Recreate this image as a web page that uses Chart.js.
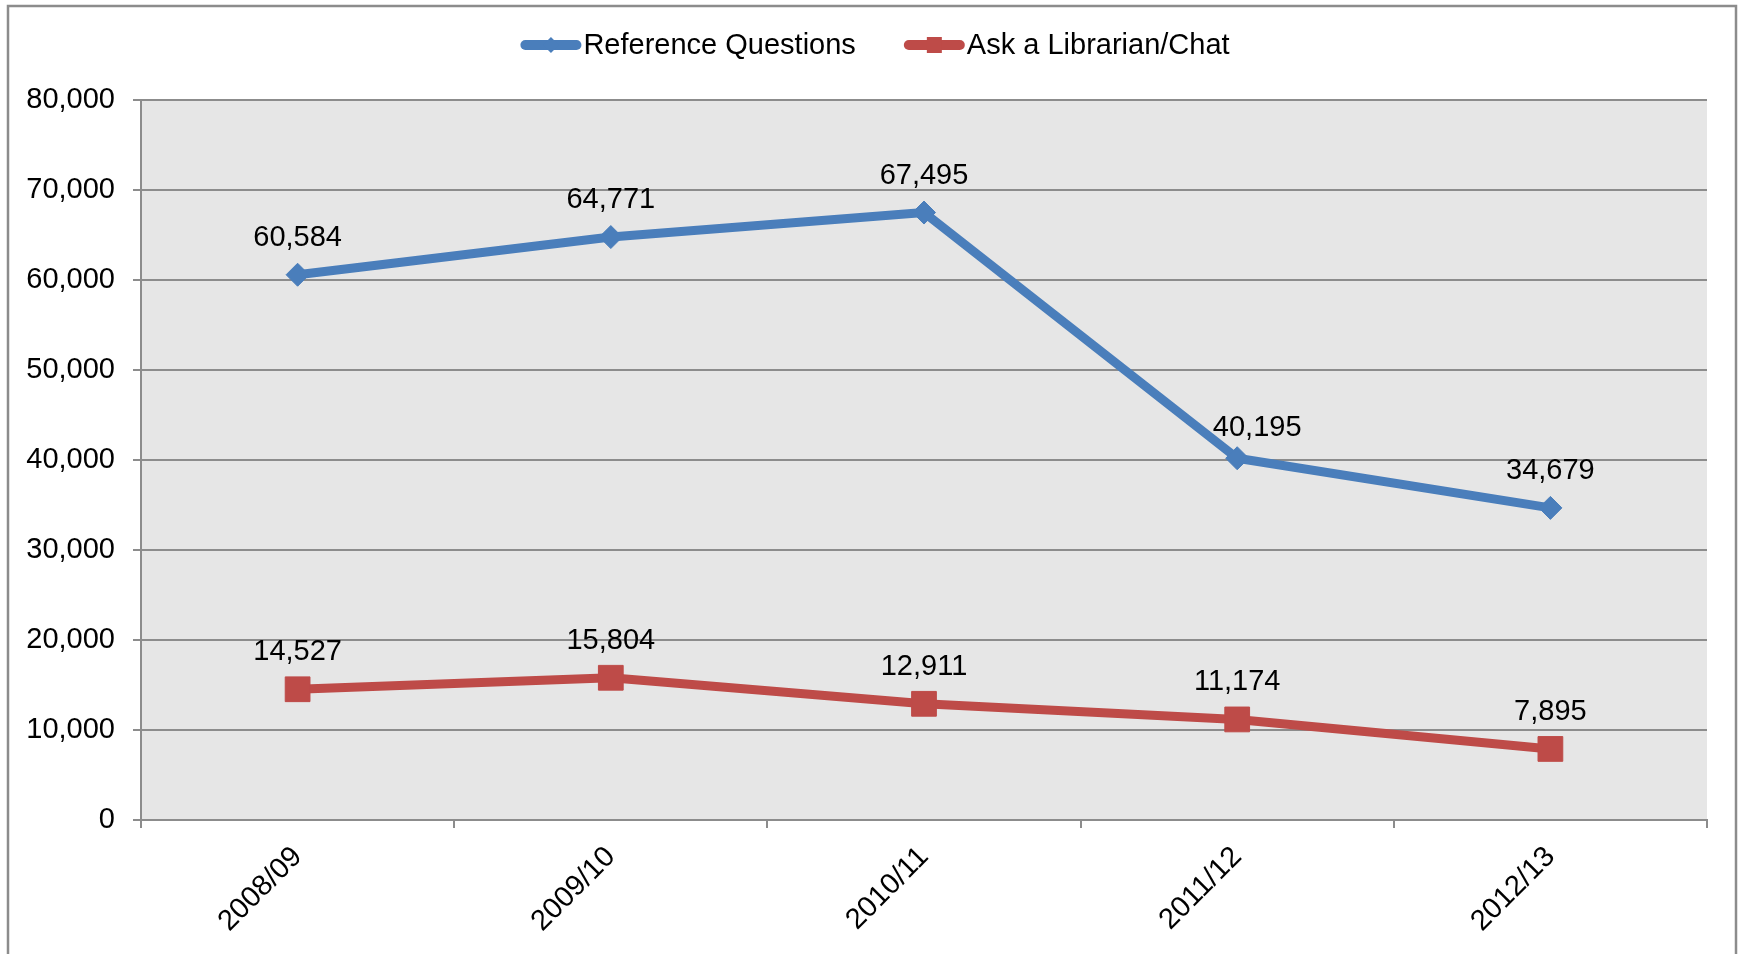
<!DOCTYPE html>
<html>
<head>
<meta charset="utf-8">
<title>Reference Questions / Ask a Librarian</title>
<script src="https://cdn.jsdelivr.net/npm/chart.js@4.4.1/dist/chart.umd.min.js"></script>
<style>
  html, body { margin: 0; padding: 0; background: #fff; }
  #wrap { position: relative; width: 1741px; height: 954px; }
</style>
</head>
<body>
<div id="wrap"><canvas id="statsChart"></canvas></div>
<script>
// Datos del gráfico
const categories = ['2008/09', '2009/10', '2010/11', '2011/12', '2012/13'];
const referenceQuestions = [60584, 64771, 67495, 40195, 34679];
const askLibrarianChat = [14527, 15804, 12911, 11174, 7895];
const yMin = 0;
const yMax = 80000;
const yStep = 10000;

const FONT = '"Liberation Sans", Arial, sans-serif';
const BLUE = '#4a7ebb';
const RED = '#be4b48';
const GRID = '#8c8c8c';

function fmt(v) {
  return Number(v).toLocaleString('en-US');
}

// Fondo blanco, área gris y marco exterior
const frameAndBackground = {
  id: 'frameAndBackground',
  beforeDraw(chart) {
    const { ctx, chartArea: a } = chart;
    ctx.save();
    ctx.fillStyle = '#fff';
    ctx.fillRect(0, 0, chart.width, chart.height);
    ctx.fillStyle = '#e6e6e6';
    ctx.fillRect(a.left, a.top, a.right - a.left, a.bottom - a.top);
    ctx.strokeStyle = GRID;
    ctx.lineWidth = 2.5;
    ctx.strokeRect(8, 6, 1728, chart.height + 10);
    ctx.restore();
  }
};

// Etiquetas de valores encima de cada punto
// (labelNudge: desplazamiento manual de alguna etiqueta, como hace Excel)
const dataLabels = {
  id: 'dataLabels',
  afterDatasetsDraw(chart) {
    const { ctx } = chart;
    ctx.save();
    ctx.font = `29px ${FONT}`;
    ctx.fillStyle = '#000';
    ctx.textAlign = 'center';
    ctx.textBaseline = 'alphabetic';
    chart.data.datasets.forEach((ds, i) => {
      const nudge = ds.labelNudge || {};
      chart.getDatasetMeta(i).data.forEach((pt, j) => {
        const [dx, dy] = nudge[j] || [0, 0];
        ctx.fillText(fmt(ds.data[j]), pt.x + dx, pt.y - 29 + dy);
      });
    });
    ctx.restore();
  }
};

// Leyenda estilo Excel (línea + marcador)
const lineLegend = {
  id: 'lineLegend',
  afterDraw(chart) {
    const { ctx } = chart;
    const sampleW = 61, textGap = 2, itemGap = 48, y = 45, centerX = 875;
    ctx.save();
    ctx.font = `29px ${FONT}`;
    const items = chart.data.datasets.map(ds => ({
      text: ds.label, color: ds.borderColor, style: ds.pointStyle,
      w: ctx.measureText(ds.label).width
    }));
    let total = 0;
    items.forEach((it, i) => { total += sampleW + textGap + it.w + (i ? itemGap : 0); });
    let x = centerX - total / 2;
    items.forEach(it => {
      ctx.strokeStyle = it.color;
      ctx.fillStyle = it.color;
      ctx.lineWidth = 10;
      ctx.lineCap = 'round';
      ctx.beginPath();
      ctx.moveTo(x + 5, y);
      ctx.lineTo(x + sampleW - 5, y);
      ctx.stroke();
      const cx = x + sampleW / 2;
      ctx.beginPath();
      if (it.style === 'rectRot') {
        ctx.moveTo(cx - 8, y);
        ctx.lineTo(cx, y - 8);
        ctx.lineTo(cx + 8, y);
        ctx.lineTo(cx, y + 8);
        ctx.closePath();
      } else {
        ctx.rect(cx - 7.5, y - 8, 15, 16);
      }
      ctx.fill();
      ctx.fillStyle = '#000';
      ctx.textAlign = 'left';
      ctx.textBaseline = 'middle';
      ctx.fillText(it.text, x + sampleW + textGap, y + 1);
      x += sampleW + textGap + it.w + itemGap;
    });
    ctx.restore();
  }
};

const ctx = document.getElementById('statsChart').getContext('2d');
const statsChart = new Chart(ctx, {
  type: 'line',
  data: {
    labels: categories,
    datasets: [{
      label: 'Reference Questions',
      data: referenceQuestions,
      borderColor: BLUE,
      backgroundColor: BLUE,
      borderWidth: 9,
      borderJoinStyle: 'round',
      tension: 0,
      pointStyle: 'rectRot',
      pointRadius: 11.5,
      pointHoverRadius: 11.5,
      pointBorderWidth: 1,
      pointBackgroundColor: BLUE,
      pointBorderColor: BLUE,
      labelNudge: { 3: [20, 7] }
    }, {
      label: 'Ask a Librarian/Chat',
      data: askLibrarianChat,
      borderColor: RED,
      backgroundColor: RED,
      borderWidth: 9,
      borderJoinStyle: 'round',
      tension: 0,
      pointStyle: 'rect',
      pointRadius: 17.5,
      pointHoverRadius: 17.5,
      pointBorderWidth: 1,
      pointBackgroundColor: RED,
      pointBorderColor: RED
    }]
  },
  options: {
    responsive: true,
    maintainAspectRatio: false,
    animation: false,
    events: [],
    layout: { padding: { top: 100, right: 34, bottom: 0, left: 0 } },
    plugins: {
      legend: { display: false },
      tooltip: { enabled: false }
    },
    scales: {
      x: {
        offset: true,
        grid: {
          offset: true,
          drawOnChartArea: false,
          drawTicks: true,
          tickLength: 8,
          color: GRID,
          lineWidth: 2
        },
        border: { color: GRID, width: 2 },
        ticks: {
          autoSkip: false,
          minRotation: 45,
          maxRotation: 45,
          padding: 12,
          color: '#000',
          font: { family: FONT, size: 29 }
        },
        afterFit(scale) { scale.height = 134; }
      },
      y: {
        min: yMin,
        max: yMax,
        grid: { color: GRID, lineWidth: 2, tickLength: 8 },
        border: { color: GRID, width: 2 },
        ticks: {
          stepSize: yStep,
          padding: 18,
          color: '#000',
          font: { family: FONT, size: 29 },
          callback: function(value) { return fmt(value); }
        },
        afterFit(scale) { scale.width = 141; }
      }
    }
  },
  plugins: [frameAndBackground, dataLabels, lineLegend]
});
</script>
</body>
</html>
